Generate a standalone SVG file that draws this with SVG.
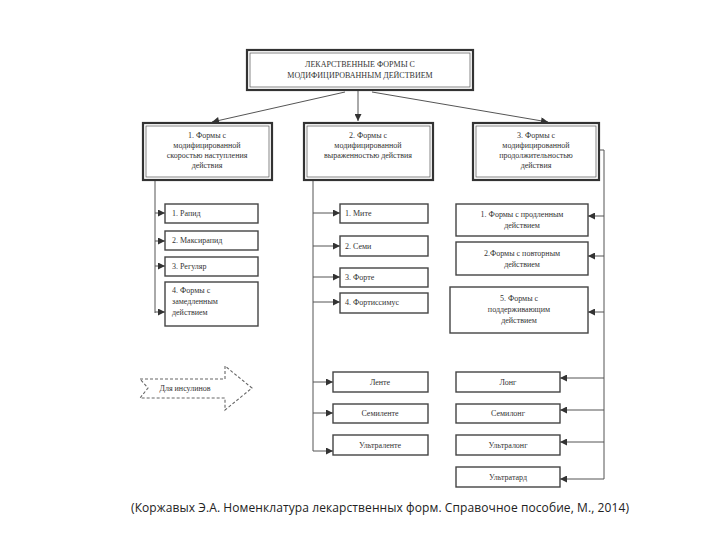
<svg xmlns="http://www.w3.org/2000/svg" width="720" height="540" viewBox="0 0 720 540">
<style>
.t{font-family:"Liberation Serif","DejaVu Serif",serif;font-size:8px;fill:#333;text-anchor:middle}
.tl{font-family:"Liberation Serif","DejaVu Serif",serif;font-size:8px;fill:#333;text-anchor:start}
.box{fill:#fff;stroke:#444;stroke-width:1.4}
.dbl{fill:#fff;stroke:#333;stroke-width:2.2}
.inner{fill:none;stroke:#555;stroke-width:0.7}
.ln{fill:none;stroke:#555;stroke-width:1}
.cite{font-family:"Open Sans","DejaVu Sans",sans-serif;font-size:12px;fill:#222}
</style>
<defs>
<marker id="ah" viewBox="0 0 10 10" refX="10" refY="5" markerWidth="9" markerHeight="7" markerUnits="userSpaceOnUse" orient="auto">
<path d="M0,0 L10,5 L0,10 z" fill="#333"/>
</marker>
</defs>
<rect width="720" height="540" fill="#fff"/>

<g id="connectors">
<path class="ln" d="M358,90 L358,121" marker-end="url(#ah)"/>
<path class="ln" d="M345,92 L212,122" marker-end="url(#ah)"/>
<path class="ln" d="M372,92 L548,122" marker-end="url(#ah)"/>
<path class="ln" d="M155,180 L155,313"/>
<path class="ln" d="M155,213 L165,213" marker-end="url(#ah)"/>
<path class="ln" d="M155,241 L165,241" marker-end="url(#ah)"/>
<path class="ln" d="M155,266 L165,266" marker-end="url(#ah)"/>
<path class="ln" d="M155,312 L165,312" marker-end="url(#ah)"/>
<path class="ln" d="M313,180 L313,451"/>
<path class="ln" d="M313,213 L340,213" marker-end="url(#ah)"/>
<path class="ln" d="M313,246 L340,246" marker-end="url(#ah)"/>
<path class="ln" d="M313,277 L340,277" marker-end="url(#ah)"/>
<path class="ln" d="M313,302 L340,302" marker-end="url(#ah)"/>
<path class="ln" d="M313,382 L333,382" marker-end="url(#ah)"/>
<path class="ln" d="M313,413 L333,413" marker-end="url(#ah)"/>
<path class="ln" d="M313,451 L333,451" marker-end="url(#ah)"/>
<path class="ln" d="M599,150 L604,150 L604,479"/>
<path class="ln" d="M604,216 L588,216" marker-end="url(#ah)"/>
<path class="ln" d="M604,256 L588,256" marker-end="url(#ah)"/>
<path class="ln" d="M604,312 L588,312" marker-end="url(#ah)"/>
<path class="ln" d="M604,378 L560,378" marker-end="url(#ah)"/>
<path class="ln" d="M604,410 L560,410" marker-end="url(#ah)"/>
<path class="ln" d="M604,442 L560,442" marker-end="url(#ah)"/>
<path class="ln" d="M604,479 L560,479" marker-end="url(#ah)"/>
</g>

<g id="root">
<rect class="dbl" x="247" y="50" width="226" height="40" stroke-width="3"/>
<rect class="inner" x="250" y="53" width="220" height="34"/>
<text class="t" x="360" y="67" font-size="8.5">ЛЕКАРСТВЕННЫЕ ФОРМЫ С</text>
<text class="t" x="360" y="78" font-size="8.5">МОДИФИЦИРОВАННЫМ ДЕЙСТВИЕМ</text>
</g>

<g id="n1">
<rect class="dbl" x="143" y="123" width="129" height="57"/>
<rect class="inner" x="146" y="126" width="123" height="51"/>
<text class="t" x="207" y="138">1. Формы с</text>
<text class="t" x="207" y="148">модифицированной</text>
<text class="t" x="207" y="158">скоростью наступления</text>
<text class="t" x="207" y="168">действия</text>
</g>
<g id="n2">
<rect class="dbl" x="304" y="123" width="129" height="57"/>
<rect class="inner" x="307" y="126" width="123" height="51"/>
<text class="t" x="368" y="138">2. Формы с</text>
<text class="t" x="368" y="148">модифицированной</text>
<text class="t" x="368" y="158">выраженностью действия</text>
</g>
<g id="n3">
<rect class="dbl" x="473" y="123" width="126" height="57"/>
<rect class="inner" x="476" y="126" width="120" height="51"/>
<text class="t" x="536" y="138">3. Формы с</text>
<text class="t" x="536" y="148">модифицированной</text>
<text class="t" x="536" y="158">продолжительностью</text>
<text class="t" x="536" y="168">действия</text>
</g>

<g id="rapid"><rect class="box" x="165" y="204" width="93" height="19"/><text class="tl" x="172" y="216">1. Рапид</text></g>
<g id="maxirapid"><rect class="box" x="165" y="231" width="93" height="19"/><text class="tl" x="172" y="243">2. Максирапид</text></g>
<g id="regular"><rect class="box" x="165" y="257" width="93" height="19"/><text class="tl" x="172" y="269">3. Регуляр</text></g>
<g id="slow"><rect class="box" x="165" y="282" width="93" height="44"/><text class="tl" x="172" y="293">4. Формы с</text><text class="tl" x="172" y="304">замедленным</text><text class="tl" x="172" y="315">действием</text></g>

<g id="mite"><rect class="box" x="340" y="204" width="88" height="19"/><text class="tl" x="345" y="216">1. Мите</text></g>
<g id="semi"><rect class="box" x="340" y="236" width="88" height="20"/><text class="tl" x="345" y="249">2. Семи</text></g>
<g id="forte"><rect class="box" x="340" y="268" width="88" height="19"/><text class="tl" x="345" y="280">3. Форте</text></g>
<g id="fortissimus"><rect class="box" x="340" y="293" width="88" height="20"/><text class="tl" x="345" y="305">4. Фортиссимус</text></g>
<g id="lente"><rect class="box" x="333" y="372" width="95" height="20"/><text class="t" x="380" y="385">Ленте</text></g>
<g id="semilente"><rect class="box" x="333" y="404" width="95" height="19"/><text class="t" x="380" y="416">Семиленте</text></g>
<g id="ultralente"><rect class="box" x="333" y="435" width="95" height="20"/><text class="t" x="380" y="448">Ультраленте</text></g>

<g id="prolonged"><rect class="box" x="456" y="204" width="132" height="32"/><text class="t" x="522" y="217">1. Формы с продленным</text><text class="t" x="522" y="228">действием</text></g>
<g id="repeated"><rect class="box" x="456" y="242" width="132" height="33"/><text class="t" x="522" y="256">2.Формы с повторным</text><text class="t" x="522" y="267">действием</text></g>
<g id="sustained"><rect class="box" x="450" y="287" width="138" height="46"/><text class="t" x="519" y="301">5. Формы с</text><text class="t" x="519" y="312">поддерживающим</text><text class="t" x="519" y="323">действием</text></g>
<g id="long"><rect class="box" x="456" y="372" width="104" height="20"/><text class="t" x="508" y="385">Лонг</text></g>
<g id="semilong"><rect class="box" x="456" y="404" width="104" height="19"/><text class="t" x="508" y="416">Семилонг</text></g>
<g id="ultralong"><rect class="box" x="456" y="435" width="104" height="20"/><text class="t" x="508" y="448">Ультралонг</text></g>
<g id="ultratard"><rect class="box" x="456" y="467" width="104" height="20"/><text class="t" x="508" y="480">Ультратард</text></g>

<g id="insulin">
<path d="M140,379 L225,379 L225,366 L252,388 L225,410 L225,398 L140,398 L148,388 Z" fill="none" stroke="#666" stroke-width="1.1" stroke-dasharray="3,2"/>
<text class="t" x="185" y="391">Для инсулинов</text>
</g>

<text class="cite" x="131" y="512" textLength="498" lengthAdjust="spacing">(Коржавых Э.А. Номенклатура лекарственных форм. Справочное пособие, М., 2014)</text>
</svg>
